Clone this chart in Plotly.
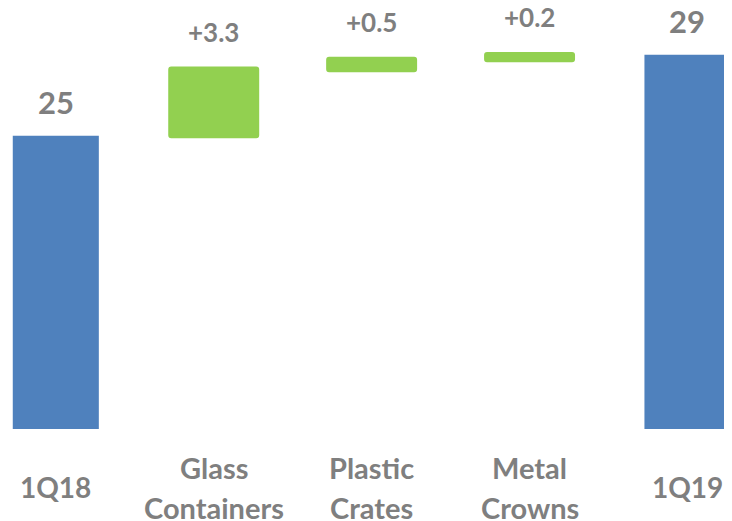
import plotly.graph_objects as go

categories = ["1Q18", "Glass Containers", "Plastic Crates", "Metal Crowns", "1Q19"]
category_lines = [["1Q18"], ["Glass", "Containers"], ["Plastic", "Crates"], ["Metal", "Crowns"], ["1Q19"]]

total_categories = ["1Q18", "1Q19"]
total_values = [25, 29]
total_labels = ["25", "29"]

step_categories = ["Glass Containers", "Plastic Crates", "Metal Crowns"]
step_low = [24.87, 28.14, 28.63]
step_high = [28.42, 28.91, 29.14]
step_labels = ["+3.3", "+0.5", "+0.2"]

BLUE = "#4F81BD"
GREEN = "#92D050"
GRAY = "#7F7F7F"
FONT = "Lato"

fig = go.Figure()
fig.add_trace(go.Bar(
    x=total_categories, y=total_values, marker=dict(color=BLUE, line=dict(width=0)),
    width=0.545, hoverinfo="skip", showlegend=False,
))
fig.add_trace(go.Bar(
    x=step_categories, y=[h - l for h, l in zip(step_high, step_low)], base=step_low,
    marker=dict(color=GREEN, line=dict(width=0), cornerradius=3),
    width=0.576, hoverinfo="skip", showlegend=False,
))

ann = []
for c, v, t in zip(total_categories, total_values, total_labels):
    ann.append(dict(x=c, y=v, xref="x", yref="y", text="<b>%s</b>" % t, showarrow=False,
                    yanchor="middle", yshift=34, font=dict(family=FONT, size=31, color=GRAY)))
for c, v, t in zip(step_categories, step_high, step_labels):
    ann.append(dict(x=c, y=v, xref="x", yref="y", text="<b>%s</b>" % t, showarrow=False,
                    yanchor="middle", yshift=35, font=dict(family=FONT, size=26, color=GRAY)))
for c, lines in zip(categories, category_lines):
    if len(lines) == 1:
        shifts = [-58]
        size = 28
    else:
        shifts = [-38, -78]
        size = 29
    for ln, s in zip(lines, shifts):
        ann.append(dict(x=c, y=0, xref="x", yref="paper", text="<b>%s</b>" % ln, showarrow=False,
                        yanchor="middle", yshift=s, font=dict(family=FONT, size=size, color=GRAY)))

fig.update_layout(
    width=724, height=513,
    margin=dict(l=0, r=0, t=0, b=92),
    paper_bgcolor="white", plot_bgcolor="white",
    barmode="overlay",
    xaxis=dict(type="category", categoryorder="array", categoryarray=categories,
               range=[-0.3027, 4.282], showticklabels=False, showgrid=False,
               zeroline=False, showline=False, ticks=""),
    yaxis=dict(range=[10.48, 31.32], visible=False, showgrid=False, zeroline=False),
    annotations=ann,
)

fig.write_html("out.html")
